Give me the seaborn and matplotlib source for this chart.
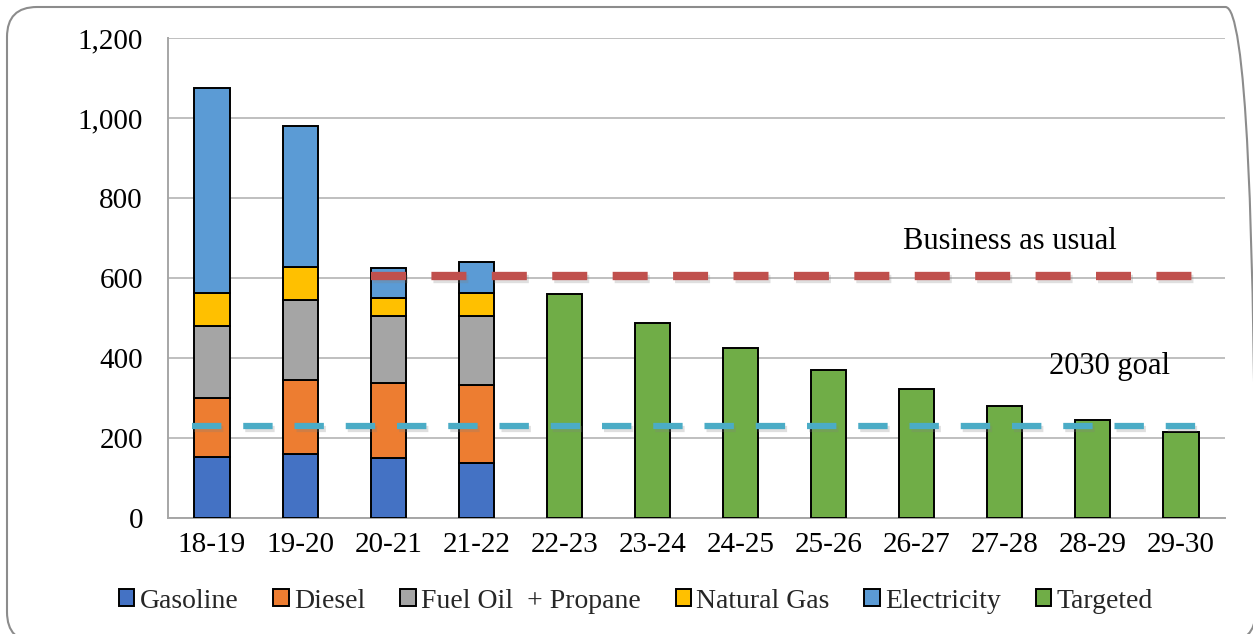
import numpy as np
import pandas as pd
import matplotlib
matplotlib.use("Agg")
import matplotlib.pyplot as plt
import matplotlib.patheffects as pe
from matplotlib.patches import Patch, FancyBboxPatch
from matplotlib.transforms import IdentityTransform
from matplotlib.ticker import FuncFormatter
import seaborn as sns

# ---------------- data ----------------
years = ["18-19", "19-20", "20-21", "21-22", "22-23", "23-24",
         "24-25", "25-26", "26-27", "27-28", "28-29", "29-30"]
actual_years = ["18-19", "19-20", "20-21", "21-22"]
gasoline = [153, 161, 149, 137]
diesel = [148, 183, 188, 196]
fuel_oil_propane = [180, 202, 169, 173]
natural_gas = [81, 81, 45, 56]
electricity = [513, 354, 75, 79]
target_years = ["22-23", "23-24", "24-25", "25-26", "26-27", "27-28", "28-29", "29-30"]
targeted = [559, 487, 425, 370, 322, 281, 245, 214]
business_as_usual = 605
goal_2030 = 229

series_names = ["Gasoline", "Diesel", "Fuel Oil  + Propane", "Natural Gas", "Electricity", "Targeted"]
colors = ["#4472C4", "#ED7D31", "#A5A5A5", "#FFC000", "#5B9BD5", "#70AD47"]

# ---------------- style ----------------
sns.set_theme(style="white")
plt.rcParams["font.family"] = ["Liberation Serif", "DejaVu Serif"]

fig = plt.figure(figsize=(12.53, 6.34), dpi=100)
ax = fig.add_axes([168 / 1253, 1 - 518 / 634, (1225 - 168) / 1253, (518 - 38) / 634])

layers = [gasoline, diesel, fuel_oil_propane, natural_gas, electricity]
bottom = np.zeros(len(actual_years))
for name, vals, col in zip(series_names[:5], layers, colors[:5]):
    df = pd.DataFrame({"year": actual_years, "value": vals})
    sns.barplot(data=df, x="year", y="value", order=years, color=col,
                width=0.4, bottom=bottom, edgecolor="black", linewidth=1.4,
                saturation=1, errorbar=None, ax=ax, zorder=3)
    bottom = bottom + np.array(vals)

df_t = pd.DataFrame({"year": target_years, "value": targeted})
sns.barplot(data=df_t, x="year", y="value", order=years, color=colors[5],
            width=0.4, edgecolor="black", linewidth=1.4, saturation=1,
            errorbar=None, ax=ax, zorder=3)

shadow = [pe.SimpleLineShadow(offset=(1.5, -2), alpha=0.25, shadow_color="gray"), pe.Normal()]
ax.hlines(business_as_usual, 1.8, 11.12, colors="#C0504D", linewidth=6,
          linestyles=(0, (4.2, 3.05)), zorder=4, path_effects=shadow)
ax.hlines(goal_2030, -0.23, 11.17, colors="#4BACC6", linewidth=4.5,
          linestyles=(0, (4.7, 3.5)), zorder=4, path_effects=shadow)

ax.text(9.06, 692, "Business as usual", ha="center", va="center", fontsize=22, color="black")
ax.text(10.19, 378, "2030 goal", ha="center", va="center", fontsize=22, color="black")

ax.set_xlim(-0.5, 11.5)
ax.set_ylim(0, 1200)
ax.set_yticks(range(0, 1201, 200))
ax.yaxis.set_major_formatter(FuncFormatter(lambda v, p: f"{int(v):,}"))
ax.grid(axis="y", color="#BFBFBF", linewidth=1.4, zorder=0)
ax.grid(axis="x", visible=False)
ax.set_axisbelow(True)
ax.set_xlabel("")
ax.set_ylabel("")
for s in ["right", "top"]:
    ax.spines[s].set_visible(False)
for s in ["left", "bottom"]:
    ax.spines[s].set_color("#A6A6A6")
    ax.spines[s].set_linewidth(1.4)
ax.tick_params(axis="y", length=0, pad=18, labelsize=21, labelcolor="black")
ax.tick_params(axis="x", length=0, pad=10, labelsize=21, labelcolor="black")

handles = [Patch(facecolor=c, edgecolor="black", linewidth=1.4, label=n)
           for n, c in zip(series_names, colors)]
fig.legend(handles=handles, loc="center", bbox_to_anchor=(636 / 1253, 1 - 601 / 634),
           ncol=6, frameon=False, fontsize=20, handlelength=0.55, handleheight=0.55,
           handletextpad=0.2, columnspacing=1.25, borderpad=0)

border = FancyBboxPatch((7, -8), 1248.5, 635,
                        boxstyle="round,pad=0,rounding_size=30",
                        transform=IdentityTransform(), facecolor="none",
                        edgecolor="#8C8C8C", linewidth=1.5, clip_on=False)
fig.patches.append(border)

fig.savefig("out.png", dpi=100)
